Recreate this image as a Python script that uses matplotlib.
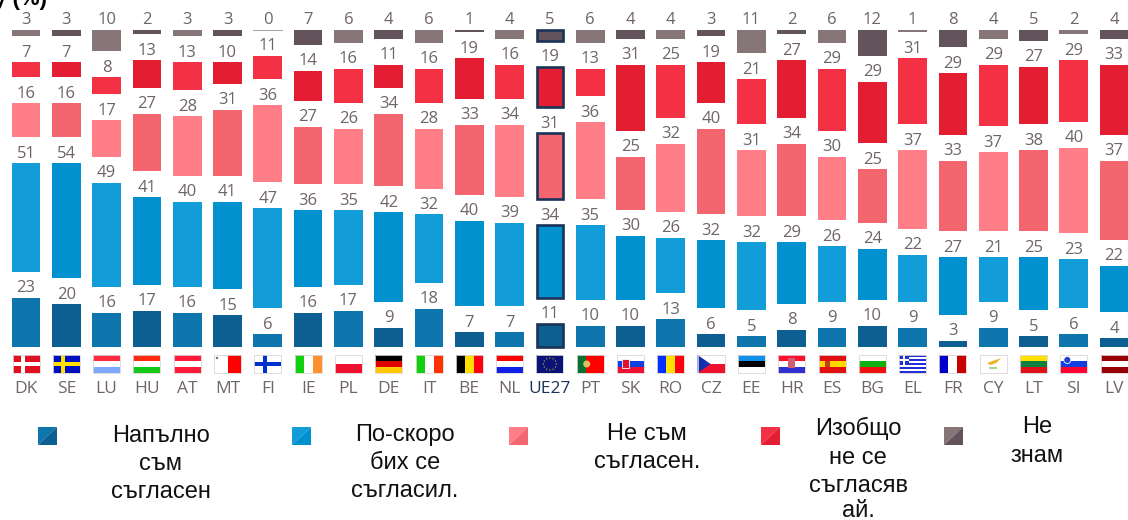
import numpy as np
import matplotlib
matplotlib.use("Agg")
import matplotlib.pyplot as plt
from matplotlib.patches import Rectangle, Circle, Polygon

countries = ["DK", "SE", "LU", "HU", "AT", "MT", "FI", "IE", "PL", "DE", "IT", "BE", "NL", "UE27",
             "PT", "SK", "RO", "CZ", "EE", "HR", "ES", "BG", "EL", "FR", "CY", "LT", "SI", "LV"]
agree_full = [23, 20, 16, 17, 16, 15, 6, 16, 17, 9, 18, 7, 7, 11, 10, 10, 13, 6, 5, 8, 9, 10, 9, 3, 9, 5, 6, 4]
agree_rather = [51, 54, 49, 41, 40, 41, 47, 36, 35, 42, 32, 40, 39, 34, 35, 30, 26, 32, 32, 29, 26, 24, 22, 27, 21, 25, 23, 22]
disagree = [16, 16, 17, 27, 28, 31, 36, 27, 26, 34, 28, 33, 34, 31, 36, 25, 32, 40, 31, 34, 30, 25, 37, 33, 37, 38, 40, 37]
disagree_full = [7, 7, 8, 13, 13, 10, 11, 14, 16, 11, 16, 19, 16, 19, 13, 31, 25, 19, 21, 27, 29, 29, 31, 29, 29, 27, 29, 33]
dont_know = [3, 3, 10, 2, 3, 3, 0, 7, 6, 4, 6, 1, 4, 5, 6, 4, 4, 3, 11, 2, 6, 12, 1, 8, 4, 5, 2, 4]
legend_labels = ["Напълно\nсъм\nсъгласен", "По-скоро\nбих се\nсъгласил.", "Не съм\nсъгласен.",
                 "Изобщо\nне се\nсъгласяв\nай.", "Не\nзнам"]

series = [agree_full, agree_rather, disagree, disagree_full, dont_know]
# светъл / тъмен вариант, редуват се по колони
light = ["#0F75AD", "#129CD8", "#FF7E87", "#F43045", "#877677"]
dark = ["#0D5F92", "#0091CE", "#F4666F", "#E41E32", "#63535B"]
text_grey = "#6F6468"
navy = "#1A3358"

X0, DX, BAR_W = 26.0, 40.3, 28.7  # px
Y0, UNIT, GAP = 347.0, 2.13, 26.0  # px

fig = plt.figure(figsize=(11.28, 5.2), dpi=100)
ax = fig.add_axes([0, 0, 1, 1])
ax.set_xlim(-X0 / DX, (1128 - X0) / DX)
ax.set_ylim(-(520 - Y0) / UNIT, Y0 / UNIT)
ax.axis("off")

# пиксели за флагове и легенда
px = fig.add_axes([0, 0, 1, 1], facecolor="none")
px.set_xlim(0, 1128)
px.set_ylim(520, 0)
px.axis("off")

gap_units = GAP / UNIT
for i, name in enumerate(countries):
    vals = [s[i] for s in series]
    total = sum(vals)
    bottom = 0.0
    for k, v in enumerate(vals):
        h = v * 100 / total  # закръглените суми не са точно 100
        col = dark[k] if i % 2 else light[k]
        if name == "UE27":
            ax.bar(i, h, BAR_W / DX * 0.9, bottom=bottom, color=col, edgecolor=navy, linewidth=1.9)
        elif v == 0:
            ax.plot([i - BAR_W / DX / 2, i + BAR_W / DX / 2], [bottom, bottom], color="#A89C9E", lw=0.7)
        else:
            ax.bar(i, h, BAR_W / DX, bottom=bottom, color=col, linewidth=0)
        ax.text(i, bottom + h + 2.6, str(v), ha="center", va="baseline", fontsize=12,
                color=text_grey, family="Open Sans")
        bottom += h + gap_units


def hstripes(x, y, w, h, cols):
    for n, c in enumerate(cols):
        px.add_patch(Rectangle((x, y + n * h / len(cols)), w, h / len(cols), color=c, lw=0))


def vstripes(x, y, w, h, cols):
    for n, c in enumerate(cols):
        px.add_patch(Rectangle((x + n * w / len(cols), y), w / len(cols), h, color=c, lw=0))


def cross(x, y, w, h, bg, fg, t=4):
    px.add_patch(Rectangle((x, y), w, h, color=bg, lw=0))
    px.add_patch(Rectangle((x, y + h / 2 - t / 2), w, t, color=fg, lw=0))
    px.add_patch(Rectangle((x + w * 0.32, y), t, h, color=fg, lw=0))


H_FLAGS = {
    "LU": ["#FF2A3C", "#FFFFFF", "#7FA8FF"], "HU": ["#FF2A10", "#FFFFFF", "#18C818"],
    "AT": ["#FF1A3C", "#FFFFFF", "#FF1A3C"], "PL": ["#FFFFFF", "#F01030"],
    "DE": ["#000000", "#E00000", "#FFC800"], "NL": ["#FF0000", "#FFFFFF", "#1020E8"],
    "EE": ["#1090E8", "#000000", "#FFFFFF"], "BG": ["#FFFFFF", "#10B010", "#F01010"],
    "LT": ["#FFE000", "#108040", "#E01018"], "LV": ["#980008", "#FFFFFF", "#980008"],
    "SK": ["#FFFFFF", "#1040E0", "#F01030"], "SI": ["#FFFFFF", "#1040E0", "#FF0030"],
    "HR": ["#FF1030", "#FFFFFF", "#3030D0"], "ES": ["#E01010", "#FFD800", "#E01010"],
}
V_FLAGS = {
    "IE": ["#10D010", "#FFFFFF", "#FF9030"], "IT": ["#10D010", "#FFFFFF", "#FF3300"],
    "BE": ["#000000", "#FFE000", "#FF0010"], "RO": ["#0030FF", "#FFE000", "#FF0010"],
    "FR": ["#0000C8", "#FFFFFF", "#C80000"], "MT": ["#FFFFFF", "#FF0000"],
    "PT": ["#0A7030", "#FF0000", "#FF0000"],
}
CROSS_FLAGS = {"DK": ("#E01020", "#FFFFFF"), "SE": ("#0010C0", "#FFE000"), "FI": ("#FFFFFF", "#0030D0")}

FW, FH, FY = 27.0, 18.0, 355.0
for i, name in enumerate(countries):
    xc = X0 + i * DX
    x = xc - FW / 2
    if name in H_FLAGS:
        hstripes(x, FY, FW, FH, H_FLAGS[name])
    elif name in V_FLAGS:
        vstripes(x, FY, FW, FH, V_FLAGS[name])
    elif name in CROSS_FLAGS:
        cross(x, FY, FW, FH, *CROSS_FLAGS[name])
    elif name == "UE27":
        px.add_patch(Rectangle((x, FY), FW, FH, color="#0A1478", lw=0))
        for a in np.arange(0, 360, 30):
            px.add_patch(Circle((xc + 6.5 * np.cos(np.radians(a)), FY + 9 + 6 * np.sin(np.radians(a))),
                                0.6, color="#E8C820", lw=0))
    elif name == "CZ":
        hstripes(x, FY, FW, FH, ["#FFFFFF", "#F01030"])
        px.add_patch(Polygon([(x, FY), (x + 13, FY + 9), (x, FY + 18)], color="#1030B0", lw=0))
    elif name == "EL":
        hstripes(x, FY, FW, FH, ["#2030D8", "#FFFFFF"] * 4 + ["#2030D8"])
        px.add_patch(Rectangle((x, FY), 10, 10, color="#2030D8", lw=0))
        px.add_patch(Rectangle((x + 4, FY), 2, 10, color="#FFFFFF", lw=0))
        px.add_patch(Rectangle((x, FY + 4), 10, 2, color="#FFFFFF", lw=0))
    elif name == "CY":
        px.add_patch(Rectangle((x, FY), FW, FH, color="#FFFFFF", lw=0))
        px.add_patch(Polygon([(xc - 6, FY + 8), (xc + 8, FY + 3), (xc + 3, FY + 8), (xc - 3, FY + 10)], color="#F0B020", lw=0))
        px.add_patch(Rectangle((xc - 4, FY + 12), 8, 2, color="#A0D890", lw=0))
    px.add_patch(Rectangle((x, FY), FW, FH, fill=False, ec="#DDD6D6", lw=0.6))
    # детайли
    if name == "MT":
        px.add_patch(Circle((x + 3, FY + 3), 1.2, color="#707070", lw=0))
    if name == "PT":
        px.add_patch(Circle((x + 10, FY + 9), 3.5, color="#D8C060", lw=0))
    if name == "SK":
        px.add_patch(Rectangle((x + 5, FY + 4), 7, 9, color="#E01030", ec="#FFFFFF", lw=0.6))
    if name == "SI":
        px.add_patch(Circle((x + 7, FY + 5), 3.5, color="#2040D0", ec="#FFFFFF", lw=0.6))
    if name == "HR":
        px.add_patch(Rectangle((xc - 3.5, FY + 3), 7, 10, color="#D06070", lw=0))
    if name == "ES":
        px.add_patch(Rectangle((x + 6, FY + 6), 5, 6, color="#C04020", lw=0))
    px.text(xc, 393, name, ha="center", va="baseline", fontsize=12.5, family="Open Sans",
            color=navy if name == "UE27" else text_grey)

# отрязано заглавие
px.text(47, 5.5, "y (%)", ha="right", va="baseline", fontsize=16, fontweight="bold",
        family="Liberation Sans", color="black")

# легенда
leg_x = [38, 292, 509, 761, 944]
leg_tx = [161, 405, 647, 858, 1037]
leg_base = [[442, 470, 498], [441, 469, 497], [440, 468], [435, 464, 492, 517], [433, 462]]
for k, lab in enumerate(legend_labels):
    x, y = leg_x[k], 427
    px.add_patch(Polygon([(x, y), (x + 19, y), (x, y + 18)], color=light[k], lw=0))
    px.add_patch(Polygon([(x + 19, y), (x + 19, y + 18), (x, y + 18)], color=dark[k], lw=0))
    for line, ty in zip(lab.split("\n"), leg_base[k]):
        px.text(leg_tx[k], ty, line, ha="center", va="baseline", fontsize=17,
                family="Liberation Sans", color="#111111")

fig.savefig("out.png", dpi=100)
